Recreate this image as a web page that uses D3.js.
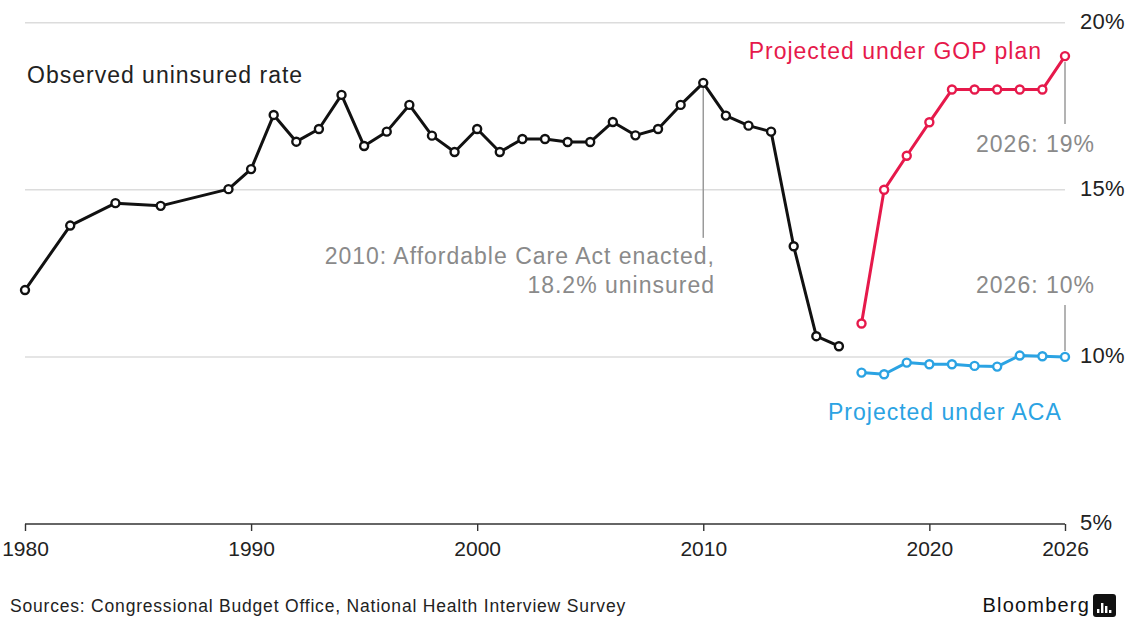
<!DOCTYPE html>
<html>
<head>
<meta charset="utf-8">
<script src="https://cdn.jsdelivr.net/npm/d3@7/dist/d3.min.js"></script>
<style>
  html, body { margin: 0; padding: 0; background: #fff; }
  svg { display: block; font-family: "Liberation Sans", Arial, Helvetica, sans-serif; }
</style>
</head>
<body>
<svg id="chart" width="1134" height="617"></svg>
<script>
// ---- Data ----
const observedYears = [1980, 1982, 1984, 1986, 1989, 1990, 1991, 1992, 1993, 1994, 1995, 1996, 1997, 1998, 1999, 2000, 2001, 2002, 2003, 2004, 2005, 2006, 2007, 2008, 2009, 2010, 2011, 2012, 2013, 2014, 2015, 2016];
const observedRates = [12.0, 13.93, 14.6, 14.52, 15.02, 15.62, 17.24, 16.44, 16.82, 17.84, 16.31, 16.74, 17.54, 16.62, 16.13, 16.82, 16.13, 16.52, 16.52, 16.43, 16.43, 17.03, 16.63, 16.82, 17.54, 18.2, 17.22, 16.92, 16.74, 13.31, 10.62, 10.32];
const projectedYears = [2017, 2018, 2019, 2020, 2021, 2022, 2023, 2024, 2025, 2026];
const gopRates = [11.0, 15.0, 16.02, 17.02, 18.0, 18.0, 18.0, 18.0, 18.0, 19.0];
const acaRates = [9.53, 9.48, 9.83, 9.78, 9.78, 9.73, 9.71, 10.04, 10.02, 10.0];
const yTicks = [5, 10, 15, 20];
const yTickLabels = ["5%", "10%", "15%", "20%"];
const xTicks = [1980, 1990, 2000, 2010, 2020, 2026];

// ---- Styles ----
const BLACK = "#111111", RED = "#e6194b", BLUE = "#2ba3e3", GRAY = "#8a8a8a", GRID = "#dcdcdc";

const svg = d3.select("#chart");
const x = d3.scaleLinear().domain([1980, 2026]).range([25, 1065]);
const y = d3.scaleLinear().domain([5, 20]).range([524, 22.7]);

// gridlines
svg.append("g").selectAll("line")
  .data(yTicks.filter(d => d > 5))
  .join("line")
  .attr("x1", x(1980)).attr("x2", x(2026))
  .attr("y1", d => y(d)).attr("y2", d => y(d))
  .attr("stroke", GRID).attr("stroke-width", 1.5);

// x axis
const xAxis = d3.axisBottom(x).tickValues(xTicks).tickFormat(d3.format("d")).tickSize(7).tickPadding(10);
const gx = svg.append("g").attr("transform", `translate(0,${y(5)})`).call(xAxis);
gx.select(".domain").attr("stroke", "#333").attr("stroke-width", 1.6).attr("d", `M${x(1980)},0H${x(2026)}`);
gx.selectAll(".tick line").attr("stroke", "#333").attr("stroke-width", 1.4);
gx.selectAll(".tick text").attr("fill", "#222").attr("font-size", 21)
  .attr("font-family", "Liberation Sans, Arial, sans-serif").attr("letter-spacing", "0px");

// y labels (right)
svg.append("g").selectAll("text")
  .data(yTicks)
  .join("text")
  .attr("x", 1080)
  .attr("y", d => y(d) - 2)
  .attr("dy", "0.36em")
  .attr("fill", "#222").attr("font-size", 22).attr("letter-spacing", "0.3px")
  .text((d, i) => yTickLabels[i]);

// leader lines
const leaders = [
  [2010, y(18.2) + 5, y(18.2) + 155],
  [2026, y(19.0) + 6, y(19.0) + 68],
  [2026, y(10.0) - 6, y(10.0) - 52]
];
svg.append("g").selectAll("line").data(leaders).join("line")
  .attr("x1", d => x(d[0])).attr("x2", d => x(d[0]))
  .attr("y1", d => d[1]).attr("y2", d => d[2])
  .attr("stroke", "#9a9a9a").attr("stroke-width", 1.5);

// series
function drawSeries(years, vals, color) {
  const pts = years.map((yr, i) => [yr, vals[i]]);
  const line = d3.line().x(d => x(d[0])).y(d => y(d[1]));
  svg.append("path").datum(pts)
    .attr("d", line).attr("fill", "none")
    .attr("stroke", color).attr("stroke-width", 3).attr("stroke-linejoin", "round");
  svg.append("g").selectAll("circle").data(pts).join("circle")
    .attr("cx", d => x(d[0])).attr("cy", d => y(d[1])).attr("r", 4)
    .attr("fill", "#fff").attr("stroke", color).attr("stroke-width", 2.4);
}
drawSeries(observedYears, observedRates, BLACK);
drawSeries(projectedYears, gopRates, RED);
drawSeries(projectedYears, acaRates, BLUE);

// annotations
function label(t, xp, yp, anchor, color, size, ls) {
  svg.append("text").attr("x", xp).attr("y", yp).attr("text-anchor", anchor)
    .attr("fill", color).attr("font-size", size).attr("letter-spacing", ls + "px").text(t);
}
label("Observed uninsured rate", 27, 83, "start", "#222", 23, 1);
label("Projected under GOP plan", 1042, 59, "end", RED, 23, 1);
label("Projected under ACA", 828, 420, "start", BLUE, 23, 1);
label("2026: 19%", 1095, 152, "end", GRAY, 23, 1);
label("2026: 10%", 1095, 293, "end", GRAY, 23, 1);
label("2010: Affordable Care Act enacted,", 715, 264, "end", GRAY, 23, 1);
label("18.2% uninsured", 715, 293, "end", GRAY, 23, 1);

// footer
label("Sources: Congressional Budget Office, National Health Interview Survey", 10, 612, "start", "#222", 17.5, 0.8);
label("Bloomberg", 1090, 612, "end", "#111", 20, 1.2);
const logo = svg.append("g").attr("transform", "translate(1093,594)");
logo.append("rect").attr("width", 23).attr("height", 23).attr("rx", 3).attr("fill", "#111");
const bars = [[5, 4], [9, 10], [13, 7], [17, 3]];
logo.selectAll(".b").data(bars).join("rect")
  .attr("x", d => d[0] - 1).attr("y", d => 19 - d[1]).attr("width", 2.4).attr("height", d => d[1])
  .attr("fill", "#fff");
</script>
</body>
</html>
